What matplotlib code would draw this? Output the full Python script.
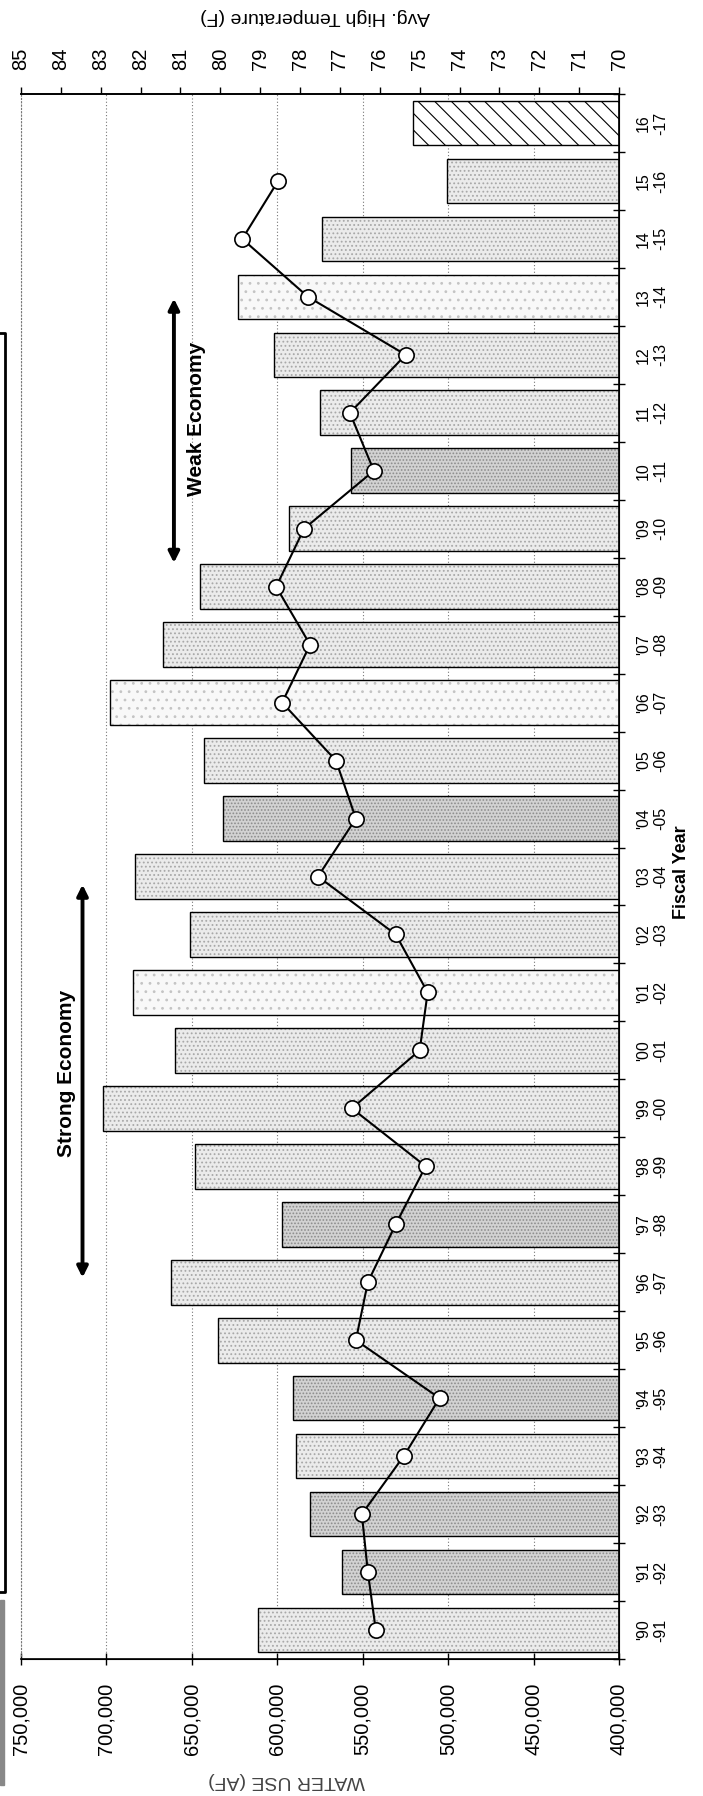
import numpy as np
import matplotlib
matplotlib.use('Agg')
from matplotlib import pyplot as plt
from matplotlib.lines import Line2D
from matplotlib.patches import Rectangle

plt.rcParams['font.family'] = ['Liberation Sans', 'DejaVu Sans']
plt.rcParams['hatch.linewidth'] = 0.8

# fiscal years, oldest first
fiscal_years = ["'90\n-91", "'91\n-92", "'92\n-93", "'93\n-94", "'94\n-95", "'95\n-96",
                "'96\n-97", "'97\n-98", "'98\n-99", "'99\n-00", "'00\n-01", "'01\n-02",
                "'02\n-03", "'03\n-04", "'04\n-05", "'05\n-06", "'06\n-07", "'07\n-08",
                "'08\n-09", "'09\n-10", "10\n-11", "11\n-12", "12\n-13", "13\n-14",
                "14\n-15", "15\n-16", "16\n-17"]

# water use in acre-feet
water_use = [611000, 562000, 581000, 589000, 591000, 634500, 662000, 597000, 648000,
             702000, 660000, 684500, 651000, 683000, 632000, 643000, 698000, 667000,
             645500, 593000, 557000, 575000, 602000, 623000, 574000, 500500, 520500]

# avg. high temperature (F), no value for the last year
avg_high_temp = [76.1, 76.3, 76.45, 75.4, 74.5, 76.6, 76.3, 75.6, 74.85, 76.7, 75.0,
                 74.8, 75.6, 77.55, 76.6, 77.1, 78.45, 77.75, 78.6, 77.9, 76.15, 76.75,
                 75.35, 77.8, 79.45, 78.55]

# fill style of each bar
bar_shade = ['light', 'dark', 'dark', 'light', 'dark', 'light', 'light', 'dark', 'light',
             'light', 'light', 'pale', 'light', 'light', 'dark', 'light', 'pale', 'light',
             'light', 'light', 'dark', 'light', 'light', 'pale', 'light', 'light', 'hatch']

water_ticks = list(range(400000, 750001, 50000))
temp_ticks = list(range(70, 86))

W, H = 703, 1796
# (face colour, stipple colour, stipple pattern)
shade_styles = {'light': ('#ebebeb', '#a8a8a8', '....'),
                'dark': ('#d2d2d2', '#8c8c8c', '.....'),
                'pale': ('#f8f8f8', '#c4c4c4', '..'),
                'hatch': ('white', 'black', '\\\\')}


def fx(px):
    return px / W


def fy(py):
    return 1 - py / H


fig = plt.figure(figsize=(W / 100, H / 100), dpi=100)
ax = fig.add_axes([fx(21), fy(1659), (619 - 21) / W, (1659 - 94) / H])

idx = np.arange(len(fiscal_years))

# bars run from the 400,000 baseline (right) toward the left
for i in idx:
    face, dots, pattern = shade_styles[bar_shade[i]]
    ax.barh(i, water_use[i] - 400000, left=400000, height=0.77, color=face,
            edgecolor=dots, linewidth=0, hatch=pattern, zorder=2)
    ax.barh(i, water_use[i] - 400000, left=400000, height=0.77, fill=False,
            edgecolor='black', linewidth=1.0, zorder=3)

ax.set_xlim(750000, 400000)
ax.set_ylim(-0.5, len(fiscal_years) - 0.5)

for v in water_ticks[1:]:
    ax.axvline(v, color='#777777', linestyle=(0, (1, 2)), linewidth=0.8, zorder=1)

ax.set_xticks(water_ticks)
ax.set_xticklabels([f'{v:,}' for v in water_ticks])
ax.tick_params(axis='x', direction='inout', length=8, width=1, pad=13,
               labelsize=14.5, labelrotation=90)

ax.yaxis.tick_right()
ax.set_yticks(idx)
ax.set_yticklabels(fiscal_years, rotation=90, va='center', ha='left',
                   multialignment='center', fontsize=11.5)
ax.set_yticks(np.arange(-0.5, len(fiscal_years), 1), minor=True)
ax.tick_params(axis='y', which='major', length=0, pad=12)
ax.tick_params(axis='y', which='minor', direction='inout', length=8, width=1)

ax.spines['left'].set_linestyle((0, (1, 2)))
ax.spines['left'].set_color('#777777')
ax.spines['left'].set_linewidth(0.8)
for s in ['top', 'bottom', 'right']:
    ax.spines[s].set_linewidth(1.2)

# temperature axis on top
ax2 = ax.twiny()
ax2.set_xlim(85, 70)
ax2.plot(avg_high_temp, idx[:len(avg_high_temp)], color='black', linewidth=1.5,
         marker='o', markersize=11, markerfacecolor='white', markeredgecolor='black',
         markeredgewidth=1.2, zorder=5)
ax2.set_xticks(temp_ticks)
ax2.tick_params(axis='x', direction='out', length=5, width=1, pad=12,
                labelsize=14.5, labelrotation=90)
ax2.spines['left'].set_visible(False)
ax2.spines['top'].set_linewidth(1.2)

# economy arrows
ax.annotate('', xy=(714000, 12.86), xytext=(714000, 6.08),
            arrowprops=dict(arrowstyle='<|-|>', color='black', lw=2.8, mutation_scale=16,
                            shrinkA=0, shrinkB=0))
ax.text(723500, 9.6, 'Strong Economy', rotation=90, ha='center', va='center',
        fontsize=15, fontweight='bold')
ax.annotate('', xy=(660500, 22.97), xytext=(660500, 18.41),
            arrowprops=dict(arrowstyle='<|-|>', color='black', lw=2.8, mutation_scale=16,
                            shrinkA=0, shrinkB=0))
ax.text(647000, 20.9, 'Weak Economy', rotation=90, ha='center', va='center',
        fontsize=15, fontweight='bold')

# axis titles
fig.text(fx(681), fy(872), 'Fiscal Year', rotation=90, ha='center', va='center',
         fontsize=13, fontweight='bold')
fig.text(fx(315), fy(16), 'Avg. High Temperature (F)', rotation=180, ha='center',
         va='center', fontsize=14)
fig.text(fx(287), fy(1781), 'WATER USE (AF)', rotation=180, ha='center', va='center',
         fontsize=14, color='#444444')

# edge of the cut-off box on the left
box_x = [fx(-5), fx(5), fx(5), fx(-5)]
box_y = [fy(333), fy(333), fy(1592), fy(1592)]
fig.add_artist(Line2D(box_x, box_y, color='black', linewidth=2, transform=fig.transFigure))
fig.add_artist(Rectangle((0, fy(1785)), fx(4), (1785 - 1600) / H, color='#888888',
                         transform=fig.transFigure))

fig.savefig('out.png', dpi=100)
